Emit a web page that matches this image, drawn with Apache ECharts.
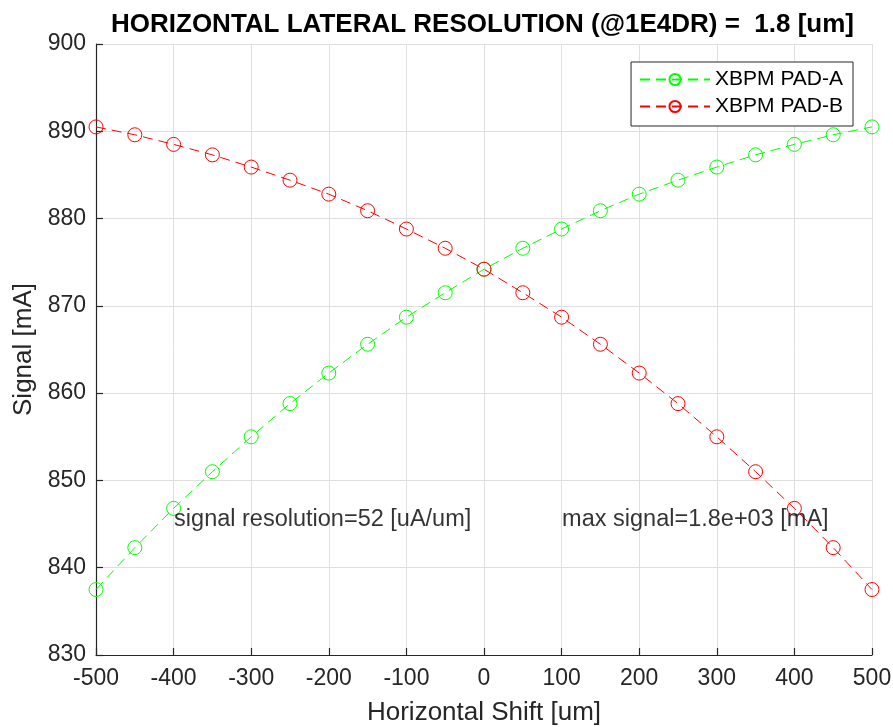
<!DOCTYPE html>
<html>
<head>
<meta charset="utf-8">
<script src="https://cdn.jsdelivr.net/npm/echarts@6/dist/echarts.min.js"></script>
<style>
  html, body { margin: 0; padding: 0; background: #fff; }
  #chart { width: 893px; height: 727px; }
</style>
</head>
<body>
<div id="chart"></div>
<script>
// horizontal shift positions [um]
const shifts = [-500, -450, -400, -350, -300, -250, -200, -150, -100, -50, 0,
  50, 100, 150, 200, 250, 300, 350, 400, 450, 500];

// signal values [mA]
const padA = [837.5, 842.3, 846.8, 851.0, 855.0, 858.8, 862.3, 865.6, 868.7, 871.5, 874.2,
  876.6, 878.8, 880.9, 882.8, 884.4, 885.9, 887.3, 888.5, 889.6, 890.5];
const padB = [890.5, 889.6, 888.5, 887.3, 885.9, 884.4, 882.8, 880.9, 878.8, 876.6, 874.2,
  871.5, 868.7, 865.6, 862.3, 858.8, 855.0, 851.0, 846.8, 842.3, 837.5];

// annotation texts and anchors
const notes = ['signal resolution=52 [uA/um]', 'max signal=1.8e+03 [mA]'];
const noteX = [-400, 100];
const noteY = [845.5, 845.5];

const chart = echarts.init(document.getElementById('chart'));
const font = 'Arial, "Liberation Sans", Helvetica, sans-serif';
const axisColor = '#262626';
const gridColor = '#dfdfdf';

const pairs = (xs, ys) => xs.map((x, i) => [x, ys[i]]);

const lineSeries = (name, color, data) => ({
  name: name,
  type: 'line',
  data: data,
  symbol: 'circle',
  symbolSize: 14,
  showAllSymbol: true,
  lineStyle: { color: color, width: 1, type: [10, 6] },
  itemStyle: { color: 'rgba(0,0,0,0)', borderColor: color, borderWidth: 1 },
  animation: false,
  z: 3
});

const axisCommon = {
  type: 'value',
  nameLocation: 'middle',
  nameTextStyle: { fontSize: 26, color: axisColor, fontFamily: font },
  axisLine: { show: true, onZero: false, lineStyle: { color: axisColor, width: 1.2 } },
  axisTick: { show: true, inside: true, length: 7, lineStyle: { color: axisColor, width: 1.2 } },
  splitLine: { show: true, lineStyle: { color: gridColor, width: 1 } }
};

const option = {
  backgroundColor: '#fff',
  textStyle: { fontFamily: font },
  title: {
    text: 'HORIZONTAL LATERAL RESOLUTION (@1E4DR) =  1.8 [um]',
    left: 106,
    top: 7,
    textStyle: { fontSize: 26, fontWeight: 'bold', color: '#000', fontFamily: font }
  },
  grid: { left: 96, right: 21, top: 44, bottom: 72, containLabel: false, outerBoundsMode: 'none' },
  legend: {
    data: ['XBPM PAD-A', 'XBPM PAD-B'],
    orient: 'vertical',
    right: 40,
    top: 62,
    itemWidth: 70,
    itemHeight: 14,
    itemGap: 6,
    padding: [7, 10, 9, 8],
    backgroundColor: '#fff',
    borderColor: axisColor,
    borderWidth: 1,
    borderRadius: 0,
    textStyle: { fontSize: 21, color: '#000', fontFamily: font }
  },
  xAxis: Object.assign({}, axisCommon, {
    min: -500,
    max: 500,
    interval: 100,
    name: 'Horizontal Shift [um]',
    nameGap: 45,
    nameTextStyle: { fontSize: 26, color: axisColor, fontFamily: font, verticalAlign: 'top' },
    axisLabel: { fontSize: 23, color: axisColor, margin: 12 }
  }),
  yAxis: Object.assign({}, axisCommon, {
    min: 830,
    max: 900,
    interval: 10,
    name: 'Signal [mA]',
    nameGap: 55,
    axisLabel: { fontSize: 23, color: axisColor, margin: 10 }
  }),
  series: [
    lineSeries('XBPM PAD-A', '#00ff00', pairs(shifts, padA)),
    lineSeries('XBPM PAD-B', '#ff0000', pairs(shifts, padB)),
    {
      name: 'notes',
      type: 'scatter',
      data: pairs(noteX, noteY),
      symbolSize: 1,
      itemStyle: { color: 'rgba(0,0,0,0)' },
      label: {
        show: true,
        position: 'right',
        distance: 0,
        fontSize: 23.5,
        color: '#000',
        fontFamily: font,
        formatter: p => notes[p.dataIndex]
      },
      silent: true,
      animation: false,
      z: 5
    }
  ]
};

chart.setOption(option);
</script>
</body>
</html>
